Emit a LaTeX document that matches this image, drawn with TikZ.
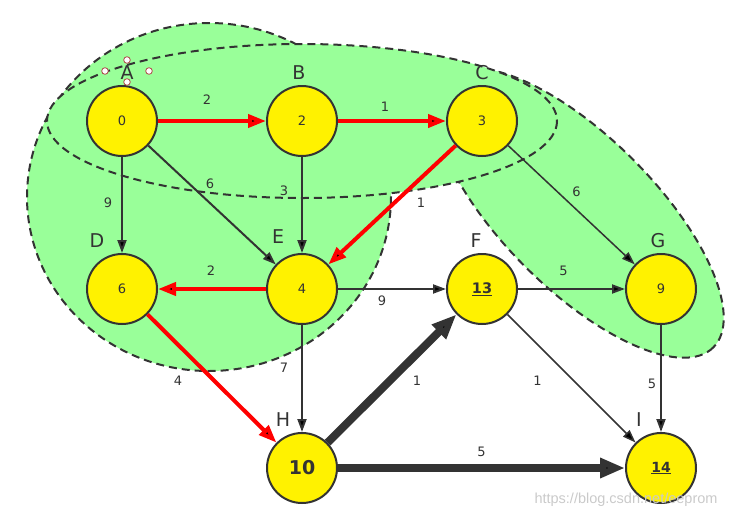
\documentclass[tikz,border=0pt]{standalone}
\usepackage{fontspec}
\setmainfont{DejaVu Sans}
\newfontfamily\wmfont{Liberation Sans}
\usepackage{xcolor}
\usetikzlibrary{arrows.meta}
\definecolor{linegray}{HTML}{333333}
\definecolor{zonegreen}{HTML}{99FF99}
\definecolor{handle}{HTML}{B04A4A}
\definecolor{wmgray}{HTML}{CACACA}
\tikzset{font={\fontsize{13pt}{15}\selectfont}}

\begin{document}
\begin{tikzpicture}[x=1pt,y=-1pt,label distance=5pt,
                    >={Triangle[length=13pt,width=9pt]},
                    main node/.style={circle,draw=linegray,fill=yellow,line width=2pt,
                      minimum size=70pt,inner sep=0pt,text=linegray},
                    tag/.style={font={\fontsize{19pt}{21}\selectfont},text=linegray,inner sep=0pt},
                    zone/.style={fill=zonegreen,draw=linegray,line width=2pt,
                      dash pattern=on 8pt off 5pt},
                    path edge/.style={->,draw=red,line width=4pt,
                      >={Triangle[length=18pt,width=13pt]}},
                    plain edge/.style={->,draw=linegray,line width=2pt},
                    heavy edge/.style={->,draw=linegray,line width=8pt,
                      >={Triangle[length=25pt,width=19pt]}},
                    cost/.style={text=linegray,inner sep=0pt}]
  \useasboundingbox (0,0) rectangle (734,520);

  % green groups, the top one last
  \draw[zone,rotate around={-45:(579,213)}] (579,213) ellipse [x radius=190,y radius=76];
  \draw[zone] (209,197) ellipse [x radius=182,y radius=174];
  \draw[zone] (302,121) ellipse [x radius=255,y radius=77];

  \node[main node,label={[tag,xshift=5]above:A}] (A) at (122,121) {0};
  \node[main node,label={[tag,xshift=-3]above:B}] (B) at (302,121) {2};
  \node[main node,label={[tag]above:C}] (C) at (482,121) {3};
  \node[main node,label={[tag,xshift=-25]above:D}] (D) at (122,289) {6};
  \node[main node,label={[tag,xshift=-24,yshift=4]above:E}] (E) at (302,289) {4};
  \node[main node,font=\bfseries\fontsize{14.5pt}{16}\selectfont,
        label={[tag,xshift=-6]above:F}] (F) at (482,289) {\underline{13}};
  \node[main node,label={[tag,xshift=-3]above:G}] (G) at (661,289) {9};
  \node[main node,font=\bfseries\fontsize{19pt}{21}\selectfont,
        label={[tag,xshift=-19]above:H}] (H) at (302,468) {10};
  \node[main node,font=\bfseries\fontsize{14pt}{16}\selectfont,
        label={[tag,xshift=-22]above:I}] (I) at (661,468) {\underline{14}};

  \path[plain edge]
    (A) edge node[cost,xshift=-14,yshift=2] {9} (D)
    (A) edge node[cost,xshift=-2,yshift=21] {6} (E)
    (B) edge node[cost,xshift=-18,yshift=14] {3} (E)
    (E) edge node[cost,xshift=-10,yshift=-12] {9} (F)
    (F) edge node[cost,xshift=-8,yshift=18] {5} (G)
    (E) edge node[cost,xshift=-18,yshift=11] {7} (H)
    (G) edge node[cost,xshift=-9,yshift=-5] {5} (I);
  \path[plain edge,line width=1.5pt]
    (C) edge node[cost,xshift=5,yshift=13] {6} (G)
    (F) edge node[cost,xshift=-34,yshift=-2] {1} (I);
  \path[heavy edge]
    (H) edge node[cost,xshift=25,yshift=-2] {1} (F)
    (H) edge node[cost,yshift=16] {5} (I);
  \path[path edge]
    (A) edge node[cost,xshift=-5,yshift=21] {2} (B)
    (B) edge node[cost,xshift=-7,yshift=14] {1} (C)
    (C) edge node[cost,xshift=29,yshift=2] {1} (E)
    (E) edge node[cost,xshift=-1,yshift=18] {2} (D)
    (D) edge node[cost,xshift=-34,yshift=-2] {4} (H);

  % selection handles round the A label
  \foreach \hx/\hy in {105/71,127/60,149/71,127/82}
    \draw[draw=handle,fill=white,line width=0.8pt] (\hx,\hy) circle [radius=3.3];

  \node[font=\wmfont\fontsize{14.5pt}{16}\selectfont,text=wmgray] (mark) at (626,500)
    {https://blog.csdn.net/eeprom};
\end{tikzpicture}
\end{document}
